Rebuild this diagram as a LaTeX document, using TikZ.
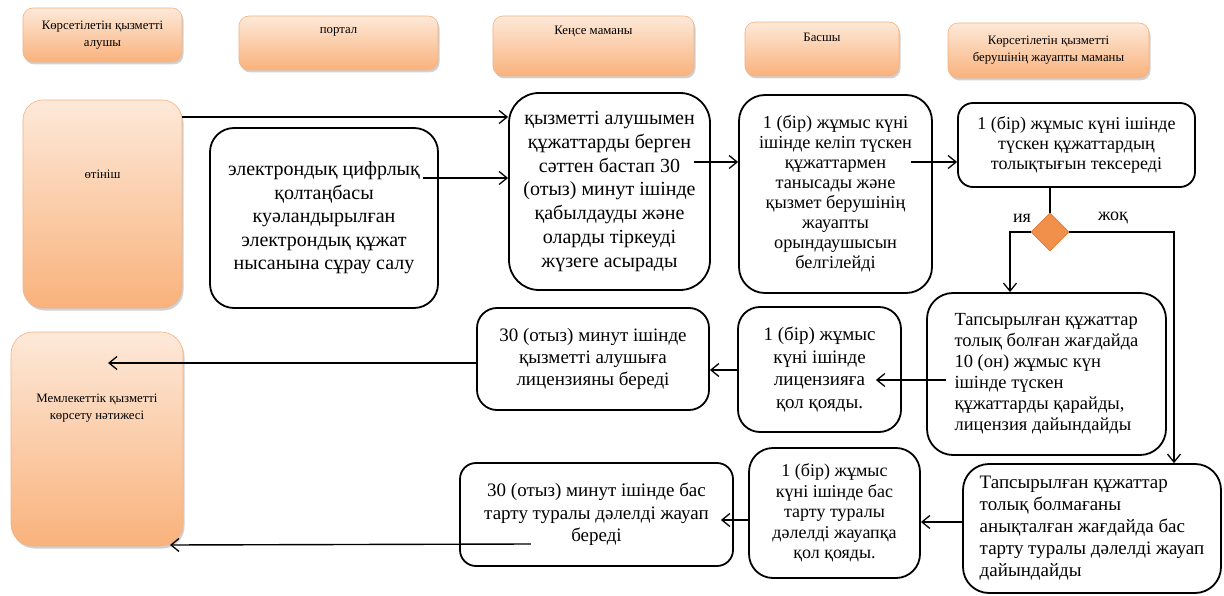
\documentclass[tikz,border=0pt]{standalone}
\usepackage{fontspec}
\setmainfont{Liberation Serif}
\usetikzlibrary{arrows.meta,shapes.geometric,shadows,calc}
\definecolor{otop}{HTML}{FDE9D9}
\definecolor{obot}{HTML}{F9B27C}
\definecolor{oedge}{HTML}{F4B183}
\definecolor{dia}{HTML}{F0904A}
\definecolor{diaedge}{HTML}{E07A35}
\begin{document}
\begin{tikzpicture}[x=1pt,y=-1pt]
\useasboundingbox (0,0) rectangle (1224,596);
\tikzset{
 obox/.style={draw=oedge, line width=0.6pt, rounded corners=10pt, top color=otop, bottom color=obot,
   drop shadow={shadow xshift=1.5pt, shadow yshift=-2.5pt, opacity=0.3, fill=black!60},
   inner sep=2pt, font=\fontsize{12.8}{17}\selectfont, align=center},
 hlab/.style={anchor=center, inner sep=0pt, font=\fontsize{12.8}{17}\selectfont, align=center},
 bbox/.style={draw=black, line width=1.8pt, rounded corners=20pt, fill=white, align=center, inner sep=4pt},
 arr/.style={line width=1.4pt, -{Straight Barb[length=8pt,width=13pt,line width=1.3pt]}},
 ln/.style={line width=1.4pt},
 yn/.style={font=\fontsize{18}{20}\selectfont, inner sep=0pt},
}
% headers
\node[obox, minimum width=159pt, minimum height=54pt] (h1) at (102.5,35) {Көрсетілетін қызметті\\алушы};
\node[obox, minimum width=199pt, minimum height=54pt, label={[hlab, yshift=-16pt]north:портал}] (h2) at (338.5,43) {};
\node[obox, minimum width=201pt, minimum height=60pt, label={[hlab, yshift=-16pt]north:Кеңсе маманы}] (h3) at (593.5,46) {};
\node[obox, minimum width=154pt, minimum height=54pt, label={[hlab, yshift=-16pt]north:Басшы}] (h4) at (822,49) {};
\node[obox, minimum width=201pt, minimum height=55pt] (h5) at (1048.5,50.5) {Көрсетілетін қызметті\\берушінің жауапты маманы};
% left column
\node[obox, rounded corners=20pt, minimum width=159pt, minimum height=208pt, label={[hlab, yshift=-75pt]north:өтініш}] (app) at (102.5,204) {};
\node[obox, rounded corners=22pt, minimum width=172pt, minimum height=214pt, label={[hlab, yshift=-76.5pt]north:Мемлекеттік қызметті\\көрсету нәтижесі}] (result) at (97,439) {};
% process boxes
\node[bbox, rounded corners=24pt, minimum width=228pt, minimum height=180pt, font=\fontsize{20}{23.5}\selectfont] (eds) at (324,218)
 {электрондық цифрлық\\қолтаңбасы\\куәландырылған\\электрондық құжат\\нысанына сұрау салу};
\node[bbox, rounded corners=30pt, minimum width=201pt, minimum height=197pt, font=\fontsize{20}{23.7}\selectfont] (reg) at (609.5,191.5)
 {қызметті алушымен\\құжаттарды берген\\сәттен бастап 30\\(отыз) минут ішінде\\қабылдауды және\\оларды тіркеуді\\жүзеге асырады};
\node[bbox, rounded corners=26pt, minimum width=193pt, minimum height=198pt, font=\fontsize{18.3}{20}\selectfont] (head) at (835.5,194)
 {1 (бір) жұмыс күні\\ішінде келіп түскен\\құжаттармен\\танысады және\\қызмет берушінің\\жауапты\\орындаушысын\\белгілейді};
\node[bbox, rounded corners=15pt, minimum width=237pt, minimum height=84pt, font=\fontsize{18}{20}\selectfont] (check) at (1076.5,145)
 {1 (бір) жұмыс күні ішінде\\түскен құжаттардың\\толықтығын тексереді};
\node[diamond, fill=dia, draw=diaedge, line width=0.8pt, minimum width=38pt, minimum height=38pt, inner sep=0pt] (dec) at (1050,232) {};
\node[yn] (ya) at (1022,218) {ия};
\node[yn] (jok) at (1113,218) {жоқ};
\node[bbox, rounded corners=26pt, minimum width=239pt, minimum height=162pt, align=left, font=\fontsize{18.5}{21}\selectfont] (full) at (1046.5,374)
 {Тапсырылған құжаттар\\толық болған жағдайда\\10 (он) жұмыс күн\\ішінде түскен\\құжаттарды қарайды,\\лицензия дайындайды};
\node[bbox, rounded corners=26pt, minimum width=258pt, minimum height=129pt, align=left, font=\fontsize{19}{22}\selectfont] (notfull) at (1092,528.5)
 {Тапсырылған құжаттар\\толық болмағаны\\анықталған жағдайда бас\\тарту туралы дәлелді жауап\\дайындайды};
\node[bbox, rounded corners=22pt, minimum width=163pt, minimum height=125pt, font=\fontsize{19}{22.5}\selectfont] (sign) at (819.5,369.5)
 {1 (бір) жұмыс\\күні ішінде\\лицензияға\\қол қояды.};
\node[bbox, rounded corners=20pt, minimum width=232pt, minimum height=102pt, font=\fontsize{19}{22}\selectfont] (give) at (593,359)
 {30 (отыз) минут ішінде\\қызметті алушыға\\лицензияны береді};
\node[bbox, rounded corners=24pt, minimum width=171pt, minimum height=130pt, font=\fontsize{18}{20.5}\selectfont] (signrej) at (834.5,513)
 {1 (бір) жұмыс\\күні ішінде бас\\тарту туралы\\дәлелді жауапқа\\қол қояды.};
\node[bbox, rounded corners=16pt, minimum width=273pt, minimum height=103pt, font=\fontsize{19}{22.5}\selectfont] (giverej) at (596.5,514.5)
 {30 (отыз) минут ішінде бас\\тарту туралы дәлелді жауап\\береді};
% free ends
\coordinate (r1) at (108,363);
\coordinate (r2) at (170,545);
% connectors
\draw[arr] (app.east |- 0,117) -- (reg.west |- 0,117);
\draw[arr] ([xshift=-16pt]eds.east |- 0,178) -- (reg.west |- 0,178);
\draw[arr] ([xshift=-17pt]reg.east |- 0,162) -- (head.west |- 0,162);
\draw[arr] ([xshift=-22pt]head.east |- 0,162) -- (check.west |- 0,162);
\draw[ln] (check.south -| dec.north) -- (dec.north);
\draw[arr] (dec.west) -| (1010,0 |- full.north);
\draw[arr] (dec.east) -| (1174,0 |- notfull.north);
\draw[arr] ([xshift=20pt]full.west |- 0,380) -- ([xshift=-26pt]sign.east |- 0,380);
\draw[arr] (sign.west |- 0,370) -- (give.east |- 0,370);
\draw[arr] (give.west |- 0,363) -- (r1);
\draw[arr] (notfull.west |- 0,522) -- (signrej.east |- 0,522);
\draw[arr] (signrej.west |- 0,520) -- ([xshift=-13pt]giverej.east |- 0,520);
\draw[arr] ([xshift=-203pt]giverej.east |- 0,544) -- (r2);
\end{tikzpicture}
\end{document}
